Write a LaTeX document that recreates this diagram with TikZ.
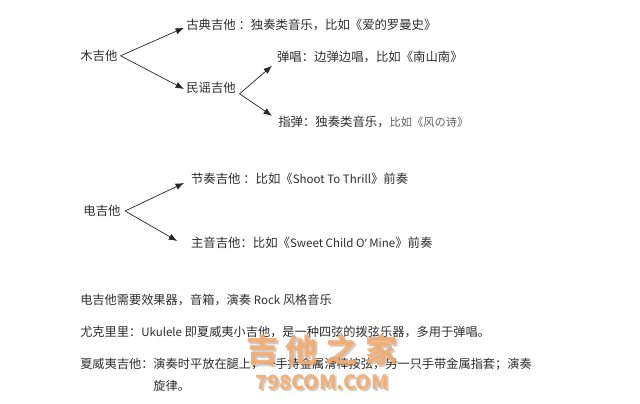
\documentclass[tikz,border=0pt]{standalone}
\usepackage{xcolor}
\usepackage{fontspec}
\setmainfont{Noto Sans CJK SC}
\newfontfamily\latinfont{Noto Sans}
\newcommand{\lat}[1]{{\fontsize{8.2pt}{11pt}\selectfont #1}}
\usetikzlibrary{arrows.meta,positioning}
\definecolor{inkgray}{RGB}{45,45,45}
\definecolor{notegray}{RGB}{95,95,95}
\definecolor{markorange}{RGB}{242,172,115}

\begin{document}
\begin{tikzpicture}[>={Latex[length=6pt,width=4.6pt]},
  lbl/.style={font=\fontsize{8.8pt}{11pt}\selectfont, text=inkgray, anchor=west, inner sep=0pt},
  note/.style={lbl, font=\fontsize{8.68pt}{11pt}\selectfont},
  arr/.style={->, black!85, line width=0.5pt},
  wmark/.style={font=\fontsize{23pt}{23pt}\selectfont\bfseries, text=markorange, opacity=0.92, inner sep=0pt},
  wshadow/.style={font=\fontsize{23pt}{23pt}\selectfont\bfseries, text=black, opacity=0.2, inner sep=0pt}]
\useasboundingbox (0,0) rectangle (16,10.075);
% Acoustic branch
\node[lbl] (acoustic) at (2.00, 8.68) {木吉他};
\node[lbl] (classic)  at (4.65, 9.45) {古典吉他 ：独奏类音乐，比如《爱的罗曼史》};
\node[lbl] (folk)     at (4.65, 7.87) {民谣吉他};
\node[lbl] (sing)     at (6.92, 8.65) {弹唱：边弹边唱，比如《南山南》};
\node[lbl] (finger)   at (6.95, 7.03) {指弹：独奏类音乐，{\color{notegray}\fontsize{8pt}{10pt}\selectfont 比如《风の诗》}};
% Electric branch
\node[lbl] (electric) at (2.08, 4.80) {电吉他};
\node[lbl] (rhythm)   at (4.77, 5.60) {节奏吉他 ：比如《\lat{Shoot To Thrill}》前奏};
\node[lbl] (lead)     at (4.77, 4.00) {主音吉他：比如《\lat{Sweet Child O{\latinfont ’} Mine}》前奏};
% Arrow tips
\coordinate (classictip) at (4.60, 9.38);
\coordinate (folktip)    at (4.60, 7.85);
\coordinate (singtip)    at (6.80, 8.43);
\coordinate (fingertip)  at (6.80, 7.18);
\coordinate (rhythmtip)  at (4.60, 5.50);
\coordinate (leadtip)    at (4.43, 4.05);
% Arrows
\draw[arr] ([xshift=2pt]acoustic.east) -- (classictip);
\draw[arr] ([xshift=2pt]acoustic.east) -- (folktip);
\draw[arr] ([xshift=2.5pt,yshift=-4pt]folk.east) -- (singtip);
\draw[arr] ([xshift=2.5pt,yshift=-4pt]folk.east) -- (fingertip);
\draw[arr] ([xshift=3pt]electric.east) -- (rhythmtip);
\draw[arr] ([xshift=3pt]electric.east) -- (leadtip);
% Notes
\node[note] (effects) at (2.00, 2.57) {电吉他需要效果器，音箱，演奏 \lat{Rock} 风格音乐};
\node[note] (ukulele) at (2.00, 1.77) {尤克里里：\lat{Ukulele} 即夏威夷小吉他，是一种四弦的拨弦乐器，多用于弹唱。};
\node[note] (hawaii)  at (2.00, 0.97) {夏威夷吉他：演奏时平放在腿上，一手持金属滑棒按弦，另一只手带金属指套；演奏};
\node[note] (melody)  at (3.83, 0.42) {旋律。};
% Watermark
\node[wshadow] (markshadow) at (8.10, 1.27) {吉 他 之 家};
\node[wmark]   (mark)       at (8.05, 1.32) {吉 他 之 家};
\node[wshadow, font=\fontsize{14pt}{14pt}\selectfont\bfseries] (siteshadow) at (8.10, 0.46) {798COM.COM};
\node[wmark, font=\fontsize{14pt}{14pt}\selectfont\bfseries]   (site)       at (8.05, 0.51) {798COM.COM};
\end{tikzpicture}
\end{document}
